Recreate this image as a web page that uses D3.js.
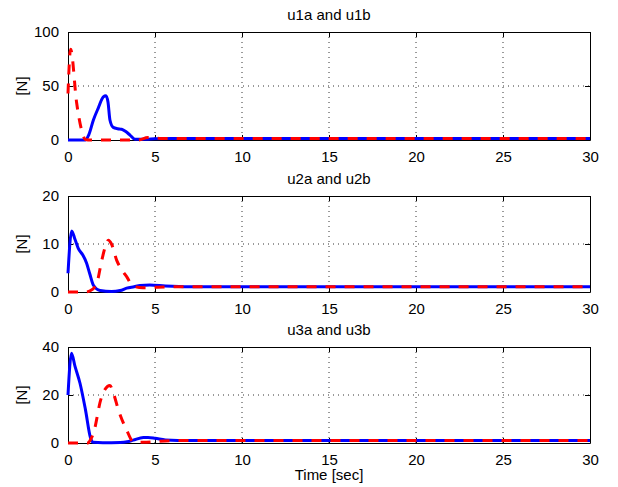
<!DOCTYPE html>
<html>
<head>
<meta charset="utf-8">
<script src="https://cdn.jsdelivr.net/npm/d3@7"></script>
<style>
  html, body { margin: 0; padding: 0; background: #fff; }
  svg { display: block; }
  text { font-family: "Liberation Sans", Arial, Helvetica, sans-serif; fill: #000; }
</style>
</head>
<body>
<svg id="chart" width="618" height="487"></svg>
<script>
// ---- Data ----
const xTicks = [0, 5, 10, 15, 20, 25, 30];
const titles = ["u1a and u1b", "u2a and u2b", "u3a and u3b"];
const yDomains = [[0, 100], [0, 20], [0, 40]];
const yTicks1 = [0, 50, 100];
const yTicks2 = [0, 10, 20];
const yTicks3 = [0, 20, 40];

const t1a = [0, 1.0, 1.2, 1.46, 1.75, 2.03, 2.18, 2.3, 2.41, 2.6, 2.85, 3.08, 3.3, 3.56, 3.85, 4.5, 5, 6, 30];
const u1a = [0, 0, 5, 18.5, 30, 40, 41, 35, 18.5, 11.7, 10.5, 10, 8, 4.6, 0.6, 0.6, 1.2, 1.3, 1.3];
const t1b = [0, 0.15, 0.5, 0.8, 1.0, 1.3, 4.0, 4.6, 4.9, 5.3, 6, 30];
const u1b = [43, 84, 34, 8, 0.5, 0, 0, 2.2, 2.2, 1.5, 1.3, 1.3];

const t2a = [0, 0.21, 0.4, 0.59, 0.85, 1.07, 1.25, 1.46, 1.84, 2.5, 3.0, 3.37, 3.8, 4.14, 4.7, 5.6, 7, 30];
const u2a = [3.9, 12.7, 11, 9.1, 7.7, 6.0, 3.8, 1.4, 0.3, 0.1, 0.3, 0.8, 1.1, 1.35, 1.45, 1.25, 1.1, 1.1];
const t2b = [0, 1.0, 1.3, 1.65, 1.94, 2.15, 2.32, 2.5, 2.8, 3.1, 3.37, 3.75, 4.3, 6, 30];
const u2b = [0, 0, 0.3, 1.8, 6.6, 9.5, 10.8, 10, 6.6, 4.6, 3.2, 1.2, 0.9, 1.1, 1.1];

const t3a = [0, 0.2, 0.4, 0.69, 1.0, 1.3, 1.45, 2.0, 3.0, 3.4, 3.75, 4.33, 4.6, 5.0, 5.6, 7, 30];
const u3a = [20, 37.4, 32, 24.9, 14, 2, 0.3, 0.1, 0.2, 0.5, 1.2, 2.3, 2.3, 2.0, 1.3, 1.0, 1.0];
const t3b = [0, 1.15, 1.3, 1.46, 1.9, 2.1, 2.41, 2.6, 2.9, 3.37, 3.75, 4.3, 6, 30];
const u3b = [0, 0, 1.5, 4, 18.5, 22, 24, 21, 13.7, 5.4, 0.6, 0.3, 1.0, 1.0];

// ---- Layout ----
const svg = d3.select("#chart");
const left = 68, right = 590;
const panels = [
  { top: 32, bottom: 140, yTicks: yTicks1, a: [t1a, u1a], b: [t1b, u1b] },
  { top: 196, bottom: 292, yTicks: yTicks2, a: [t2a, u2a], b: [t2b, u2b] },
  { top: 347, bottom: 443, yTicks: yTicks3, a: [t3a, u3a], b: [t3b, u3b] }
];
const FS = 15;
const x = d3.scaleLinear().domain([0, 30]).range([left, right]);

panels.forEach((p, i) => {
  const y = d3.scaleLinear().domain(yDomains[i]).range([p.bottom, p.top]);
  const g = svg.append("g");

  // grid (dotted)
  g.append("g").selectAll("line").data(xTicks.slice(1, -1)).join("line")
    .attr("x1", d => x(d)).attr("x2", d => x(d))
    .attr("y1", p.top).attr("y2", p.bottom)
    .attr("stroke", "#000").attr("stroke-width", 0.8).attr("stroke-dasharray", "1,4");
  g.append("g").selectAll("line").data(p.yTicks.slice(1, -1)).join("line")
    .attr("x1", left).attr("x2", right)
    .attr("y1", d => y(d)).attr("y2", d => y(d))
    .attr("stroke", "#000").attr("stroke-width", 0.8).attr("stroke-dasharray", "1,4");

  // axes with inward ticks
  const axB = d3.axisBottom(x).tickValues(xTicks).tickSizeInner(-5).tickSizeOuter(0).tickPadding(11);
  const axT = d3.axisTop(x).tickValues(xTicks).tickSizeInner(-5).tickSizeOuter(0).tickFormat("");
  const axL = d3.axisLeft(y).tickValues(p.yTicks).tickSizeInner(-5).tickSizeOuter(0).tickPadding(9);
  const axR = d3.axisRight(y).tickValues(p.yTicks).tickSizeInner(-5).tickSizeOuter(0).tickFormat("");
  [[axB, `translate(0,${p.bottom})`], [axT, `translate(0,${p.top})`],
   [axL, `translate(${left},0)`], [axR, `translate(${right},0)`]].forEach(([ax, tr]) => {
    const a = g.append("g").attr("transform", tr).call(ax);
    a.select(".domain").attr("stroke", "#000").attr("stroke-width", 1);
    a.selectAll(".tick line").attr("stroke", "#000");
    a.selectAll("text").attr("font-size", FS).attr("font-family", "'Liberation Sans', Arial, sans-serif").attr("fill", "#000");
  });

  // title
  g.append("text").attr("x", (left + right) / 2).attr("y", p.top - 12)
    .attr("text-anchor", "middle").attr("font-size", FS).text(titles[i]);

  // y label
  g.append("text")
    .attr("transform", `translate(27,${(p.top + p.bottom) / 2}) rotate(-90)`)
    .attr("text-anchor", "middle").attr("font-size", FS).text("[N]");

  // lines
  const line = d3.line().x(d => x(d[0])).y(d => y(d[1])).curve(d3.curveMonotoneX);
  const da = p.a[0].map((t, k) => [t, p.a[1][k]]);
  const db = p.b[0].map((t, k) => [t, p.b[1][k]]);
  g.append("path").datum(da).attr("d", line).attr("fill", "none")
    .attr("stroke", "#0000ff").attr("stroke-width", 3).attr("stroke-linejoin", "round");
  g.append("path").datum(db).attr("d", line).attr("fill", "none")
    .attr("stroke", "#ff0000").attr("stroke-width", 3).attr("stroke-dasharray", "10,9");
});

svg.append("text").attr("x", (left + right) / 2).attr("y", 480)
  .attr("text-anchor", "middle").attr("font-size", FS).text("Time [sec]");
</script>
</body>
</html>
